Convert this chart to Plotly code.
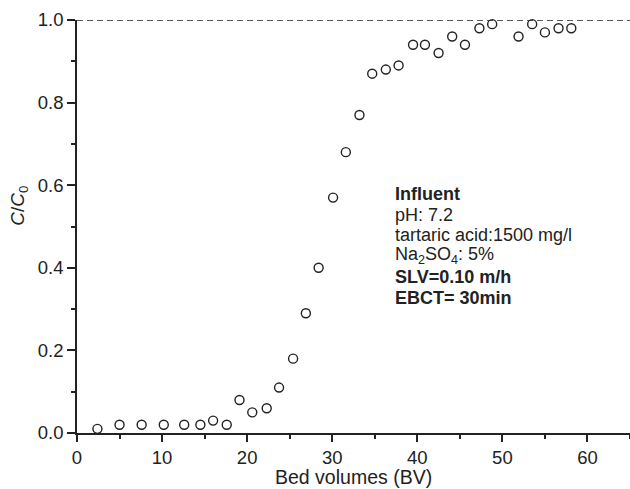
import plotly.graph_objects as go

bed_volumes = [2.4, 5.0, 7.6, 10.2, 12.6, 14.5, 16.0, 17.6, 19.1, 20.6, 22.3, 23.75,
               25.4, 26.9, 28.4, 30.1, 31.6, 33.2, 34.7, 36.3, 37.8, 39.5, 40.9,
               42.5, 44.1, 45.6, 47.3, 48.8, 51.9, 53.5, 55.0, 56.6, 58.1]
c_ratio = [0.01, 0.02, 0.02, 0.02, 0.02, 0.02, 0.03, 0.02, 0.08, 0.05, 0.06, 0.11,
           0.18, 0.29, 0.40, 0.57, 0.68, 0.77, 0.87, 0.88, 0.89, 0.94, 0.94,
           0.92, 0.96, 0.94, 0.98, 0.99, 0.96, 0.99, 0.97, 0.98, 0.98]

x_ticks = [0, 10, 20, 30, 40, 50, 60]
y_ticks = [0.0, 0.2, 0.4, 0.6, 0.8, 1.0]
y_tick_labels = ["0.0", "0.2", "0.4", "0.6", "0.8", "1.0"]

info_lines = ["<b>Influent</b>", "pH: 7.2", "tartaric acid:1500 mg/l",
              "Na<sub>2</sub>SO<sub>4</sub>: 5%", "<b>SLV=0.10 m/h</b>", "<b>EBCT= 30min</b>"]

FONT = "Liberation Sans, Arial, sans-serif"
INK = "#222222"

fig = go.Figure()
fig.add_trace(go.Scatter(
    x=bed_volumes, y=c_ratio, mode="markers",
    marker=dict(symbol="circle-open", size=9, color=INK, line=dict(width=1.4, color=INK)),
    cliponaxis=False, showlegend=False,
))

fig.add_shape(type="line", x0=0, x1=65, y0=1.0, y1=1.0, xref="x", yref="y",
              line=dict(color=INK, width=1.5, dash="6px,4px"))

line_y = [0.578, 0.529, 0.480, 0.429, 0.378, 0.327]
for txt, yy in zip(info_lines, line_y):
    fig.add_annotation(x=37.2, y=yy, xref="x", yref="y", text=txt, showarrow=False,
                       xanchor="left", yanchor="middle", align="left",
                       font=dict(family=FONT, size=18, color=INK))

fig.add_annotation(x=-0.105, y=0.55, xref="paper", yref="paper",
                   text="<i>C</i>/<i>C</i><sub>0</sub>", showarrow=False, textangle=-90,
                   xanchor="center", yanchor="middle",
                   font=dict(family=FONT, size=19, color=INK))

fig.add_annotation(x=0.5, y=-0.106, xref="paper", yref="paper",
                   text="Bed volumes (BV)", showarrow=False,
                   xanchor="center", yanchor="middle",
                   font=dict(family=FONT, size=19.5, color=INK))

fig.update_xaxes(range=[0, 65], tickvals=x_ticks, ticks="outside", ticklen=7, tickwidth=1.5,
                 tickcolor=INK, showline=True, linecolor=INK, linewidth=1.5,
                 showgrid=False, zeroline=False,
                 minor=dict(dtick=5, tick0=0, ticks="outside", ticklen=4, tickwidth=1.5, tickcolor=INK),
                 tickfont=dict(family=FONT, size=18.5, color=INK))
fig.update_yaxes(range=[0, 1.0], tickvals=y_ticks, ticktext=y_tick_labels, ticks="outside",
                 ticklen=8, tickwidth=1.5, tickcolor=INK, showline=True, linecolor=INK,
                 linewidth=1.5, showgrid=False, zeroline=False,
                 minor=dict(dtick=0.1, tick0=0, ticks="outside", ticklen=4, tickwidth=1.5, tickcolor=INK),
                 tickfont=dict(family=FONT, size=18.5, color=INK))

fig.update_layout(width=630, height=489, margin=dict(l=77, r=0, t=20, b=56),
                  paper_bgcolor="white", plot_bgcolor="white", showlegend=False)

fig.write_html("out.html", config={"displayModeBar": False},
               post_script="document.body.style.margin='0px';document.body.style.overflow='hidden';")
